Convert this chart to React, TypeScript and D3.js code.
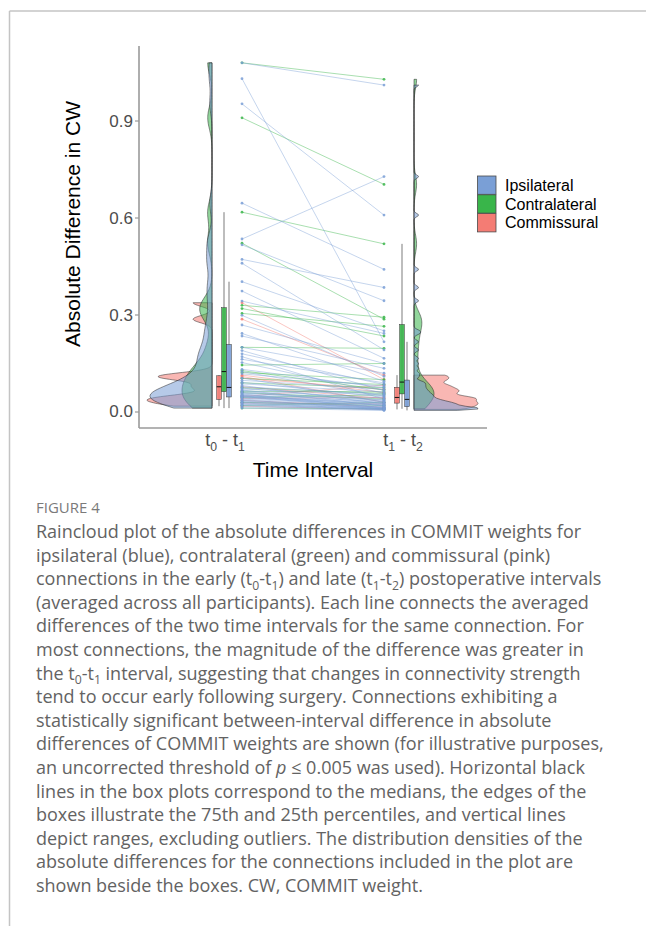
import * as d3 from "d3";

// categories
const intervals = ["t0-t1", "t1-t2"];
const groups = ["Ipsilateral", "Contralateral", "Commissural"];
const groupColors: Record<string, string> = {
  Ipsilateral: "#7a9fd6",
  Contralateral: "#39b54a",
  Commissural: "#f47c74",
};
// dodge order of the boxes (left to right)
const dodgeOrder = ["Commissural", "Contralateral", "Ipsilateral"];

// absolute differences per connection, paired by index (t0-t1 -> t1-t2)
const ipsiT01 = [
  1.08, 1.031, 0.953, 0.646, 0.535, 0.517, 0.472, 0.46, 0.403, 0.374, 0.343, 0.299, 0.269, 0.243, 0.235,
  0.2, 0.19, 0.18, 0.171, 0.163, 0.153, 0.132, 0.125, 0.118, 0.105, 0.098, 0.092, 0.087, 0.082, 0.078,
  0.074, 0.071, 0.068, 0.066, 0.063, 0.06, 0.058, 0.056, 0.054, 0.052, 0.051, 0.05, 0.049, 0.048, 0.047,
  0.045, 0.043, 0.04, 0.038, 0.036, 0.034, 0.032, 0.03, 0.028, 0.026, 0.024, 0.022, 0.02, 0.016, 0.012,
];
const ipsiT12 = [
  1.011, 0.217, 0.609, 0.441, 0.728, 0.344, 0.385, 0.192, 0.251, 0.166, 0.243, 0.11, 0.15, 0.095, 0.135,
  0.12, 0.066, 0.085, 0.04, 0.09, 0.058, 0.075, 0.049, 0.08, 0.03, 0.07, 0.046, 0.062, 0.025, 0.055,
  0.036, 0.052, 0.018, 0.043, 0.034, 0.029, 0.038, 0.012, 0.032, 0.022, 0.028, 0.014, 0.026, 0.01, 0.024,
  0.021, 0.02, 0.017, 0.009, 0.015, 0.013, 0.012, 0.011, 0.008, 0.01, 0.007, 0.009, 0.006, 0.008, 0.005,
];
const contraT01 = [
  1.08, 0.91, 0.618, 0.522, 0.33, 0.32, 0.305, 0.2, 0.145, 0.128, 0.122, 0.104, 0.09, 0.075, 0.064,
  0.06, 0.045, 0.03, 0.02, 0.012,
];
const contraT12 = [
  1.029, 0.704, 0.52, 0.287, 0.293, 0.235, 0.265, 0.197, 0.15, 0.068, 0.1, 0.085, 0.075, 0.057, 0.062,
  0.04, 0.053, 0.02, 0.03, 0.01,
];
const commT01 = [0.338, 0.287, 0.114, 0.11, 0.105, 0.078, 0.048, 0.042, 0.036, 0.028, 0.018];
const commT12 = [0.1, 0.114, 0.06, 0.03, 0.07, 0.042, 0.083, 0.045, 0.015, 0.025, 0.008];

const yTicks = [0, 0.3, 0.6, 0.9];

const seriesT01: Record<string, number[]> = {
  Ipsilateral: ipsiT01,
  Contralateral: contraT01,
  Commissural: commT01,
};
const seriesT12: Record<string, number[]> = {
  Ipsilateral: ipsiT12,
  Contralateral: contraT12,
  Commissural: commT12,
};
// kernel bandwidths and maximum half-widths (px) of the density clouds
const bwT01: Record<string, number> = { Ipsilateral: 0.03, Contralateral: 0.035, Commissural: 0.011 };
const bwT12: Record<string, number> = { Ipsilateral: 0.005, Contralateral: 0.028, Commissural: 0.008 };
const widthT01: Record<string, number> = { Ipsilateral: 62, Contralateral: 30, Commissural: 65 };
const widthT12: Record<string, number> = { Ipsilateral: 64, Contralateral: 20, Commissural: 64 };

const captionTitle = "FIGURE 4";
const captionLines = [
  "Raincloud plot of the absolute differences in COMMIT weights for",
  "ipsilateral (blue), contralateral (green) and commissural (pink)",
  "connections in the early (t_0-t_1) and late (t_1-t_2) postoperative intervals",
  "(averaged across all participants). Each line connects the averaged",
  "differences of the two time intervals for the same connection. For",
  "most connections, the magnitude of the difference was greater in",
  "the t_0-t_1 interval, suggesting that changes in connectivity strength",
  "tend to occur early following surgery. Connections exhibiting a",
  "statistically significant between-interval difference in absolute",
  "differences of COMMIT weights are shown (for illustrative purposes,",
  "an uncorrected threshold of *p* ≤ 0.005 was used). Horizontal black",
  "lines in the box plots correspond to the medians, the edges of the",
  "boxes illustrate the 75th and 25th percentiles, and vertical lines",
  "depict ranges, excluding outliers. The distribution densities of the",
  "absolute differences for the connections included in the plot are",
  "shown beside the boxes. CW, COMMIT weight.",
];

const W = 646;
const H = 926;
const panel = { left: 139, right: 487, top: 46, bottom: 428 };

const x = d3.scalePoint().domain(intervals).range([224, 402]);
const y = d3.scaleLinear().domain([-0.0495, 1.132]).range([panel.bottom, panel.top]);

function kde(values: number[], bw: number, n = 240) {
  const lo = d3.min(values)!;
  const hi = d3.max(values)!;
  const k = (u: number) => Math.exp(-0.5 * u * u) / Math.sqrt(2 * Math.PI);
  return d3.range(n).map((i) => {
    const v = lo + ((hi - lo) * i) / (n - 1);
    return [v, d3.mean(values, (d) => k((v - d) / bw))! / bw] as [number, number];
  });
}

function boxStats(values: number[]) {
  const s = values.slice().sort(d3.ascending);
  const q1 = d3.quantileSorted(s, 0.25)!;
  const med = d3.quantileSorted(s, 0.5)!;
  const q3 = d3.quantileSorted(s, 0.75)!;
  const iqr = q3 - q1;
  const lo = d3.min(s.filter((v) => v >= q1 - 1.5 * iqr))!;
  const hi = d3.max(s.filter((v) => v <= q3 + 1.5 * iqr))!;
  return { q1, med, q3, lo, hi };
}

// subscript "_0" and italic "*p*" markup for the caption / tick labels
function richText(line: string, size: number) {
  const parts = line.split(/(_\d|\*[^*]+\*)/).filter((p) => p !== "");
  const out: JSX.Element[] = [];
  let shifted = false;
  parts.forEach((p, i) => {
    if (p.startsWith("_")) {
      out.push(
        <tspan key={i} dy={size * 0.25} fontSize={size * 0.68}>
          {p.slice(1)}
        </tspan>
      );
      shifted = true;
    } else {
      const dy = shifted ? -size * 0.25 : undefined;
      shifted = false;
      out.push(
        <tspan key={i} dy={dy} fontStyle={p.startsWith("*") ? "italic" : undefined}>
          {p.startsWith("*") ? p.slice(1, -1) : p}
        </tspan>
      );
    }
  });
  return out;
}

function halfViolin(dens: [number, number][], base: number, maxW: number, dir: number) {
  const maxD = d3.max(dens, (d) => d[1])!;
  const w = d3.scaleLinear().domain([0, maxD]).range([0, maxW]);
  return d3
    .area<[number, number]>()
    .y((d) => y(d[0]))
    .x0(base)
    .x1((d) => base + dir * w(d[1]))(dens)!;
}

export default function App() {
  const leftBase = x("t0-t1")! - 12;
  const rightBase = x("t1-t2")! + 12;
  const lineX0 = x("t0-t1")! + 18;
  const lineX1 = x("t1-t2")! - 18;

  // draw order: commissural, contralateral, ipsilateral on top
  const drawOrder = ["Commissural", "Contralateral", "Ipsilateral"];
  const font = "'Liberation Sans', Arial, sans-serif";
  const capFont = "'Open Sans', sans-serif";

  return (
    <svg width={W} height={H} style={{ position: "absolute", left: 0, top: 0, background: "#fff" }}>
      {/* page frame */}
      <line x1={9.5} x2={W} y1={11} y2={11} stroke="#c4c4c4" strokeWidth={1.5} />
      <line x1={9.5} x2={9.5} y1={11} y2={H} stroke="#c4c4c4" strokeWidth={1.5} />

      {/* connecting lines */}
      {drawOrder.map((g) =>
        seriesT01[g].map((v, i) => (
          <line
            key={g + "l" + i}
            x1={lineX0}
            x2={lineX1}
            y1={y(v)}
            y2={y(seriesT12[g][i])}
            stroke={groupColors[g]}
            strokeOpacity={0.55}
            strokeWidth={0.8}
          />
        ))
      )}
      {drawOrder.map((g) =>
        seriesT01[g].map((v, i) => (
          <g key={g + "p" + i} fill={groupColors[g]} fillOpacity={0.85}>
            <circle cx={lineX0} cy={y(v)} r={1.4} />
            <circle cx={lineX1} cy={y(seriesT12[g][i])} r={1.4} />
          </g>
        ))
      )}

      {/* half violins */}
      {drawOrder.map((g) => (
        <g key={g + "v"}>
          <path
            d={halfViolin(kde(seriesT01[g], bwT01[g]), leftBase, widthT01[g], -1)}
            fill={groupColors[g]}
            fillOpacity={0.55}
            stroke="#222"
            strokeWidth={0.5}
          />
          <path
            d={halfViolin(kde(seriesT12[g], bwT12[g]), rightBase, widthT12[g], 1)}
            fill={groupColors[g]}
            fillOpacity={0.55}
            stroke="#222"
            strokeWidth={0.5}
          />
        </g>
      ))}

      {/* boxplots */}
      {intervals.map((iv) =>
        dodgeOrder.map((g, j) => {
          const vals = iv === "t0-t1" ? seriesT01[g] : seriesT12[g];
          const st = boxStats(vals);
          const cx = x(iv)! + (j - 1) * 5;
          const bw = 4.6;
          return (
            <g key={iv + g + "b"}>
              <line x1={cx} x2={cx} y1={y(st.hi)} y2={y(st.lo)} stroke="#222" strokeWidth={0.6} />
              <rect
                x={cx - bw / 2}
                y={y(st.q3)}
                width={bw}
                height={y(st.q1) - y(st.q3)}
                fill={groupColors[g]}
                fillOpacity={0.9}
                stroke="#333"
                strokeWidth={0.5}
              />
              <line x1={cx - bw / 2} x2={cx + bw / 2} y1={y(st.med)} y2={y(st.med)} stroke="#111" strokeWidth={1} />
            </g>
          );
        })
      )}

      {/* axes */}
      <line x1={panel.left} x2={panel.left} y1={panel.top} y2={panel.bottom} stroke="#9a9a9a" strokeWidth={1.6} />
      <line x1={panel.left} x2={panel.right} y1={panel.bottom} y2={panel.bottom} stroke="#9a9a9a" strokeWidth={1.6} />
      {yTicks.map((t) => (
        <g key={"yt" + t}>
          <line x1={panel.left - 4} x2={panel.left} y1={y(t)} y2={y(t)} stroke="#9a9a9a" strokeWidth={1.2} />
          <text
            x={panel.left - 6}
            y={y(t)}
            textAnchor="end"
            dominantBaseline="central"
            fontFamily={font}
            fontSize={17}
            fill="#4d4d4d"
          >
            {d3.format(".1f")(t)}
          </text>
        </g>
      ))}
      {intervals.map((iv) => (
        <text key={"xt" + iv} x={x(iv)! + 1} y={446} textAnchor="middle" fontFamily={font} fontSize={18} fill="#4d4d4d">
          {richText(iv === "t0-t1" ? "t_0  -  t_1" : "t_1  -  t_2", 18)}
        </text>
      ))}
      <text
        x={(panel.left + panel.right) / 2}
        y={477}
        textAnchor="middle"
        fontFamily={font}
        fontSize={21}
        fill="#000"
      >
        Time Interval
      </text>
      <text
        transform={`translate(80,224) rotate(-90)`}
        textAnchor="middle"
        fontFamily={font}
        fontSize={21}
        fill="#000"
      >
        Absolute Difference in CW
      </text>

      {/* legend */}
      {groups.map((g, i) => (
        <g key={"lg" + g}>
          <rect
            x={477.5}
            y={176 + i * 18.8}
            width={18.5}
            height={18.3}
            fill={groupColors[g]}
            stroke="#4a4a4a"
            strokeWidth={0.8}
          />
          <text
            x={505}
            y={176 + i * 18.8 + 9.3}
            dominantBaseline="central"
            fontFamily={font}
            fontSize={16}
            fill="#000"
          >
            {g}
          </text>
        </g>
      ))}

      {/* caption */}
      <text x={36} y={513} fontFamily={capFont} fontSize={15} fill="#7a7a7a">
        {captionTitle}
      </text>
      {captionLines.map((l, i) => (
        <text key={"c" + i} x={36} y={538 + i * 23.6} fontFamily={capFont} fontSize={18} fill="#636363">
          {richText(l, 18)}
        </text>
      ))}
    </svg>
  );
}
